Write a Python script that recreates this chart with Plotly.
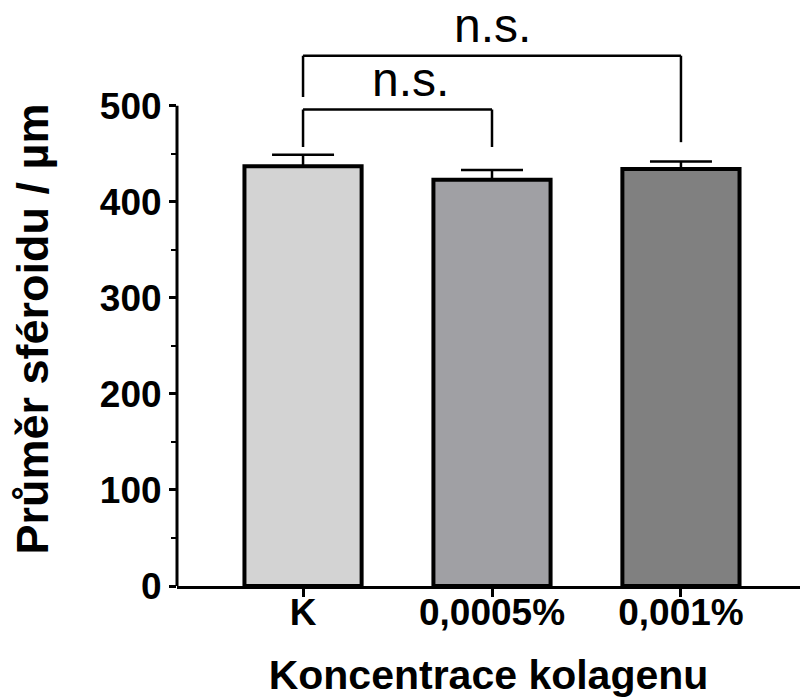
import plotly.graph_objects as go

# ---- data ----
categories = ["K", "0,0005%", "0,001%"]
means = [437, 423, 434]
sem = [12, 10, 8]
bar_colors = ["#d3d3d3", "#a0a0a4", "#808080"]
y_ticks = [0, 100, 200, 300, 400, 500]
y_minor = [50, 150, 250, 350, 450]
x_title = "Koncentrace kolagenu"
y_title = "Průměr sféroidu / µm"
sig_label = "n.s."

FONT = "Liberation Sans, Arial, sans-serif"

fig = go.Figure()
fig.add_trace(go.Bar(
    x=categories, y=means, width=0.62,
    marker=dict(color=bar_colors, line=dict(color="black", width=4)),
    error_y=dict(type="data", array=sem, arrayminus=[0] * len(sem), symmetric=False,
                 color="black", thickness=2.5, width=31),
    showlegend=False,
))

# y axis line only up to 500
fig.add_shape(type="line", xref="paper", yref="y", x0=0, x1=0, y0=0, y1=max(y_ticks),
              line=dict(color="black", width=3))

# significance brackets (category index positions)
def bracket(i0, i1, top, left_bottom, right_bottom, text, text_x, text_y):
    fig.add_shape(type="line", xref="x", yref="y", x0=i0, x1=i0, y0=left_bottom, y1=top,
                  line=dict(color="black", width=2.5))
    fig.add_shape(type="line", xref="x", yref="y", x0=i0, x1=i1, y0=top, y1=top,
                  line=dict(color="black", width=2.5))
    fig.add_shape(type="line", xref="x", yref="y", x0=i1, x1=i1, y0=top, y1=right_bottom,
                  line=dict(color="black", width=2.5))
    fig.add_annotation(x=text_x, y=text_y, xref="x", yref="y", text=text, showarrow=False,
                       font=dict(family=FONT, size=48, color="black"), yanchor="middle")

bracket(0, 2, 552, 509, 462, sig_label, 1.0, 583)
bracket(0, 1, 496, 457, 457, sig_label, 0.57, 527)

# y-axis title as rotated annotation (centred as in the reference)
fig.add_annotation(x=0, xref="paper", xshift=-145, xanchor="center",
                   y=267, yref="y", yanchor="middle", textangle=-90,
                   text=y_title, showarrow=False,
                   font=dict(family=FONT, size=45, weight="bold", color="black"))

fig.update_layout(
    width=800, height=699,
    margin=dict(l=177, r=0, t=0, b=113),
    plot_bgcolor="white", paper_bgcolor="white",
    font=dict(family=FONT, color="black"),
)
fig.update_xaxes(
    range=[-0.667, 2.63], showline=True, linecolor="black", linewidth=3,
    ticks="outside", ticklen=8, tickwidth=3, tickcolor="black",
    ticklabelstandoff=-16,
    tickfont=dict(family=FONT, size=37, weight="bold"),
    title=dict(text=x_title, font=dict(family=FONT, size=41, weight="bold"), standoff=28),
    showgrid=False, zeroline=False,
)
fig.update_yaxes(
    range=[0, 610], showline=False, showgrid=False, zeroline=False,
    tickmode="array", tickvals=y_ticks, ticktext=[str(v) for v in y_ticks],
    ticks="outside", ticklen=7, tickwidth=3, tickcolor="black",
    minor=dict(tickmode="array", tickvals=y_minor, ticks="outside", ticklen=5, tickwidth=2,
               tickcolor="black", showgrid=False),
    tickfont=dict(family=FONT, size=37, weight="bold"),
)

fig.write_html("out.html")
